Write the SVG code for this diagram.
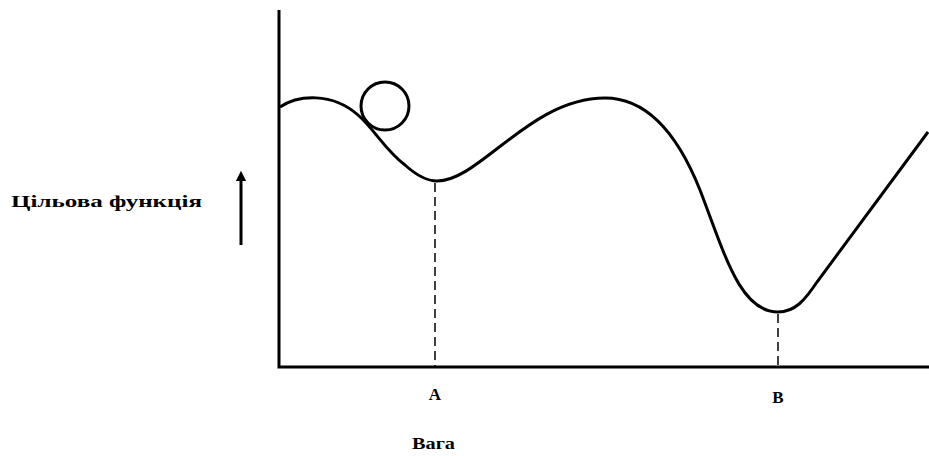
<svg xmlns="http://www.w3.org/2000/svg" width="929" height="456" viewBox="0 0 929 456">
<style>
.ln{stroke:#000;fill:none;stroke-width:3}
.dash{stroke:#000;fill:none;stroke-width:1.5;stroke-dasharray:9,5}
.t{font-family:"Liberation Serif","Times New Roman",serif;font-weight:bold;fill:#000}
</style>
<defs>
<marker id="ah" viewBox="0 0 10 10" refX="5" refY="5" markerWidth="3.5" markerHeight="5" orient="auto">
<path d="M0,0 L10,5 L0,10 z" fill="#000"/>
</marker>
</defs>
<rect width="929" height="456" fill="#fff"/>
<g id="axes">
<path class="ln" d="M279,10 V367 H929"/>
</g>
<g id="curve">
<path class="ln" d="M280,107 C298,95 332,92 358,115 C375,130 385,150 405,165 C415,174 425,181 437,181 C480,181 530,98 605,98 C650,98 680,140 700,190 C725,255 740,312 778,312 C795,312 805,300 817,282 L928,132"/>
</g>
<g id="ball">
<circle class="ln" cx="385" cy="106" r="24"/>
</g>
<g id="connectors">
<line class="dash" x1="435" y1="183" x2="435" y2="366"/>
<line class="dash" x1="778" y1="314" x2="778" y2="366"/>
<line x1="241" y1="245" x2="241" y2="176" stroke="#000" stroke-width="3" marker-end="url(#ah)"/>
</g>
<g id="labels">
<text class="t" x="11" y="207" font-size="17" textLength="191" lengthAdjust="spacingAndGlyphs">Цільова функція</text>
<text class="t" x="435" y="400" font-size="17" text-anchor="middle">A</text>
<text class="t" x="778" y="403" font-size="17" text-anchor="middle">B</text>
<text class="t" x="412" y="449" font-size="16" textLength="43" lengthAdjust="spacingAndGlyphs">Вага</text>
</g>
</svg>
